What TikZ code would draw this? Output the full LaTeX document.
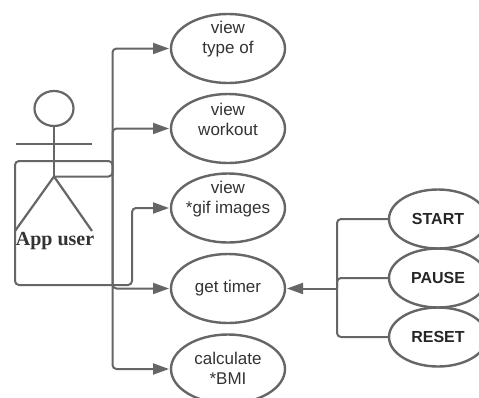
\documentclass[tikz,border=0pt]{standalone}
\usepackage{fontspec}
\setmainfont{Liberation Sans}
\newfontfamily\serifb{Liberation Serif}
\usetikzlibrary{shapes.geometric,arrows.meta}
\definecolor{ln}{HTML}{666666}
\definecolor{tx}{HTML}{333333}
\tikzset{
  every node/.style={inner sep=0pt,outer sep=0pt},
  usecase/.style={ellipse,draw=ln,line width=2.4pt,minimum width=114pt,minimum height=69pt},
  btn/.style={ellipse,draw=ln,line width=2.4pt,minimum width=98pt,minimum height=59pt,font=\fontsize{16}{19}\selectfont\bfseries,text=black!85},
  captext/.style={align=center,text=tx,font=\fontsize{17}{20}\selectfont},
  wire/.style={draw=ln,line width=2pt,rounded corners=4pt},
  arr/.style={wire,-{Triangle[length=16pt,width=11pt]},shorten >=2pt},
  stick/.style={draw=ln,line width=2.2pt}
}
\begin{document}
\begin{tikzpicture}[x=1pt,y=-1pt]
\useasboundingbox (0,0) rectangle (479,397);
\clip (0,0) rectangle (479,397);
\fill[white] (0,0) rectangle (479,397);
% use cases
\node[usecase] (e1) at (228,48.5) {};
\node[usecase] (e2) at (228,128.5) {};
\node[usecase] (e3) at (228,208) {};
\node[usecase] (e4) at (228,288.5) {};
\node[usecase] (e5) at (228,369) {};
\node[captext] (t1) at (228,39.5) {view\\type of};
\node[captext] (t2) at (228,119.5) {view\\workout};
\node[captext] (t3) at (228,199.5) {view\\*gif images};
\node[captext] (t4) at (228,288.5) {get timer};
\node[captext] (t5) at (228,368) {calculate\\*BMI};
% buttons
\node[btn] (start) at (438,219) {START};
\node[btn] (pause) at (438,278) {PAUSE};
\node[btn] (reset) at (438,337) {RESET};
% actor
\node[ellipse,draw=ln,line width=2.2pt,minimum width=39pt,minimum height=35pt] (head) at (54,108.5) {};
\coordinate (hip) at (54,176.5);
\coordinate (armL) at (16,143.7);
\coordinate (armR) at (92,143.7);
\coordinate (legL) at (15,231);
\coordinate (legR) at (92,231);
\draw[stick] (head.south) -- (hip);
\draw[stick] (armL) -- (armR);
\draw[stick] (legL) -- (hip) -- (legR);
\node[font=\serifb\bfseries\fontsize{20}{24}\selectfont,text=tx] (user) at (55,241) {App user};
% left wiring
\coordinate (jn) at (112.5,176.5);
\draw[arr] (jn) |- (e1.west);
\draw[arr] (jn) |- (e2.west);
\draw[arr] (jn) |- (e4.west);
\draw[arr] (jn) |- (e5.west);
\draw[arr] (hip) -- (jn) -- (112.5,161) -- (15,161) -- (15,285) -- (132,285) -- (132,208) -- (e3.west);
% right wiring
\coordinate (jr) at (337,288.5);
\draw[wire] (start.west) -| (jr);
\draw[wire] (pause.west) -| (jr);
\draw[wire] (reset.west) -| (jr);
\draw[arr] (jr) -- (e4.east);
\end{tikzpicture}
\end{document}
